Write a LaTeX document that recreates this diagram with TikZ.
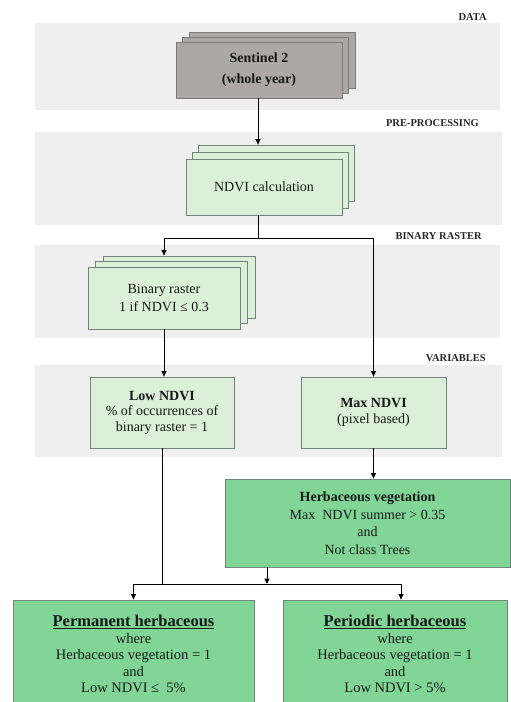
\documentclass[tikz,border=0pt]{standalone}
\usepackage{fontspec}
\setmainfont{Liberation Serif}
\usetikzlibrary{shadows,arrows.meta}

\definecolor{bandgray}{HTML}{EFEFEF}
\definecolor{rastergreen}{HTML}{DCEFD8}
\definecolor{classgreen}{HTML}{80D597}
\definecolor{boxedge}{HTML}{74847A}
\definecolor{satgray}{HTML}{ADA8A8}
\definecolor{satedge}{HTML}{7F7A7A}
\definecolor{inkgray}{HTML}{161A16}

\begin{document}
\begin{tikzpicture}[x=1pt,y=-1pt,
  band/.style={fill=bandgray, draw=none},
  bandlabel/.style={anchor=east, inner sep=0pt, text=black!85,
    font=\fontsize{10.5}{12}\selectfont\bfseries},
  stepbox/.style={draw=boxedge, fill=rastergreen, line width=0.8pt,
    align=center, inner sep=0pt, text=inkgray},
  classbox/.style={stepbox, fill=classgreen},
  satbox/.style={stepbox, draw=satedge, fill=satgray},
  conn/.style={line width=1pt, black},
  arr/.style={conn, -{Triangle[length=5.5pt,width=5pt]}}
]
\useasboundingbox (0,0) rectangle (511,702);

% horizontal bands for the processing stages
\fill[band] (35,23)  rectangle (500,110);
\fill[band] (35,132) rectangle (502,225);
\fill[band] (35,245) rectangle (500,338);
\fill[band] (35,365) rectangle (502,457);

\node[bandlabel] (lbldata) at (487,17)  {DATA};
\node[bandlabel] (lblpre)  at (479,123) {PRE-PROCESSING};
\node[bandlabel] (lblbin)  at (482,236) {BINARY RASTER};
\node[bandlabel] (lblvar)  at (486,358) {VARIABLES};

% image stacks
\node[satbox, minimum width=166pt, minimum height=56pt,
      double copy shadow={shadow xshift=6.5pt, shadow yshift=5pt},
      font=\fontsize{14}{21}\selectfont\bfseries]
  (sent) at (259,70) {Sentinel 2\\(whole year)};

\node[stepbox, minimum width=156pt, minimum height=56pt,
      double copy shadow={shadow xshift=6pt, shadow yshift=7pt},
      font=\fontsize{14}{18}\selectfont]
  (ndvi) at (264,187) {NDVI calculation};

\node[stepbox, minimum width=152pt, minimum height=62pt,
      double copy shadow={shadow xshift=7.5pt, shadow yshift=5.5pt},
      font=\fontsize{14}{18}\selectfont]
  (bin) at (164,298) {Binary raster\\1 if NDVI ≤ 0.3};

% variables
\node[stepbox, minimum width=144pt, minimum height=71pt,
      font=\fontsize{14}{15.5}\selectfont]
  (low) at (162,412.5) {\textbf{Low NDVI}\\\% of occurrences of\\binary raster = 1};

\node[stepbox, minimum width=145pt, minimum height=71pt,
      font=\fontsize{14}{16}\selectfont]
  (maxv) at (373.5,412.5) {\textbf{Max NDVI}\\(pixel based)};

% classification
\node[classbox, minimum width=285pt, minimum height=88pt,
      font=\fontsize{14}{17.5}\selectfont]
  (herb) at (367.5,523) {\textbf{Herbaceous vegetation}\\Max~ NDVI summer > 0.35\\and\\Not class Trees};

\node[classbox, minimum width=241pt, minimum height=108pt,
      font=\fontsize{14.5}{16.5}\selectfont]
  (perm) at (133.5,654) {{\fontsize{16.5}{18}\selectfont\bfseries\underline{Permanent herbaceous}}\\where\\Herbaceous vegetation = 1\\and\\Low NDVI ≤~ 5\%};

\node[classbox, minimum width=224pt, minimum height=108pt,
      font=\fontsize{14.5}{16.5}\selectfont]
  (peri) at (395,654) {{\fontsize{16.5}{18}\selectfont\bfseries\underline{Periodic herbaceous}}\\where\\Herbaceous vegetation = 1\\and\\Low NDVI > 5\%};

% connectors
\coordinate (split1) at (258,238);
\coordinate (split2) at (267,584);

\draw[arr] (sent.south -| split1) -- ([yshift=14pt]ndvi.north -| split1);
\draw[conn] (ndvi.south -| split1) -- (split1);
\draw[arr] (split1) -| ([yshift=11pt]bin.north);
\draw[arr] (split1) -| (maxv.north);
\draw[arr] (bin.south) -- (bin.south |- low.north);
\draw[arr] (maxv.south) -- (maxv.south |- herb.north);
\draw[conn] (low.south) -- (low.south |- split2);
\draw[arr] (herb.south -| split2) -- (split2);
\draw[arr] (split2) -| (perm.north);
\draw[arr] (split2) -| ([xshift=6pt]peri.north);
\end{tikzpicture}
\end{document}
